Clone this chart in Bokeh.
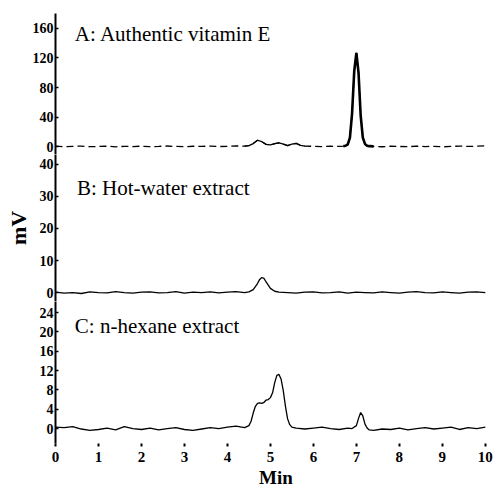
from bokeh.plotting import figure
from bokeh.layouts import column
from bokeh.models import Label, Range1d, FixedTicker
from bokeh.embed import file_html
from bokeh.resources import INLINE

# ---- data ----
time_a = [0.0, 0.2, 0.4, 0.6, 0.8, 1.0, 1.2, 1.4, 1.6, 1.8, 2.0, 2.2, 2.4, 2.6, 2.8, 3.0, 3.2, 3.4, 3.6, 3.8, 4.0, 4.2, 4.4,
          4.5, 4.6, 4.7, 4.8, 4.9, 5.0, 5.1, 5.2, 5.3, 5.4, 5.5, 5.6, 5.7, 5.8,
          6.0, 6.2, 6.4, 6.6, 6.7,
          6.75, 6.8, 6.85, 6.9, 6.95, 7.0, 7.05, 7.1, 7.15, 7.2, 7.25, 7.3,
          7.4, 7.6, 7.8, 8.0, 8.2, 8.4, 8.6, 8.8, 9.0, 9.2, 9.4, 9.6, 9.8, 10.0]
mv_a = [0.5, -0.3, 0.2, 0.6, -0.2, 0.1, 0.4, -0.4, 0.3, 0.0, 0.5, -0.2, 0.2, 0.7, 0.1, -0.3, 0.4, 0.2, 0.6, 0.0, 0.3, 0.8, 0.5,
        1.2, 4.0, 8.5, 6.5, 3.0, 2.2, 3.8, 5.0, 3.2, 1.2, 3.4, 4.2, 1.6, 0.5,
        0.3, -0.2, 0.4, 0.2, 0.6,
        1.0, 3.0, 12.0, 45.0, 102.0, 127.0, 100.0, 42.0, 12.0, 3.5, 1.2, 0.5,
        0.2, -0.3, 0.4, 0.1, -0.2, 0.5, 0.0, 0.3, -0.4, 0.2, 0.6, 0.1, 0.4, 0.9]

time_b = [0.0, 0.2, 0.4, 0.6, 0.8, 1.0, 1.2, 1.4, 1.6, 1.8, 2.0, 2.2, 2.4, 2.6, 2.8, 3.0, 3.2, 3.4, 3.6, 3.8, 4.0, 4.2, 4.4,
          4.5, 4.6, 4.7, 4.75, 4.8, 4.85, 4.9, 5.0, 5.1, 5.2,
          5.4, 5.6, 5.8, 6.0, 6.2, 6.4, 6.6, 6.8, 7.0, 7.2, 7.4, 7.6, 7.8, 8.0, 8.2, 8.4, 8.6, 8.8, 9.0, 9.2, 9.4, 9.6, 9.8, 10.0]
mv_b = [0.1, -0.2, 0.0, -0.3, 0.2, 0.0, -0.1, 0.3, 0.0, -0.2, 0.1, 0.2, -0.1, 0.0, 0.3, -0.2, 0.1, 0.0, 0.2, -0.1, 0.1, 0.3, 0.0,
        0.2, 0.9, 2.8, 4.1, 4.7, 4.4, 3.3, 1.3, 0.4, 0.1,
        0.0, -0.2, 0.1, 0.2, -0.1, 0.0, 0.2, -0.2, 0.1, 0.0, -0.1, 0.2, 0.0, -0.2, 0.1, 0.3, 0.0, -0.1, 0.2, 0.0, -0.2, 0.1, 0.2, 0.0]

time_c = [0.0, 0.2, 0.4, 0.6, 0.8, 1.0, 1.2, 1.4, 1.6, 1.8, 2.0, 2.2, 2.4, 2.6, 2.8, 3.0, 3.2, 3.4, 3.6, 3.8, 4.0, 4.2, 4.4,
          4.5, 4.55, 4.6, 4.65, 4.7, 4.75, 4.8, 4.85, 4.9, 4.95, 5.0, 5.05, 5.1, 5.15, 5.2, 5.25, 5.3, 5.35, 5.4, 5.45, 5.5, 5.6,
          5.8, 6.0, 6.2, 6.4, 6.6, 6.8,
          6.9, 7.0, 7.05, 7.1, 7.15, 7.2, 7.25, 7.3,
          7.4, 7.6, 7.8, 8.0, 8.2, 8.4, 8.6, 8.8, 9.0, 9.2, 9.4, 9.6, 9.8, 10.0]
mv_c = [0.3, 0.2, 0.4, -0.1, -0.4, -0.2, 0.1, -0.3, 0.4, 0.0, -0.2, 0.1, -0.3, 0.0, 0.2, -0.2, -0.4, -0.1, 0.2, 0.0, 0.3, 0.5, 0.2,
        0.6, 1.5, 3.2, 4.6, 5.2, 5.3, 5.2, 5.4, 5.9, 6.0, 6.4, 7.4, 9.5, 11.0, 11.2, 10.2, 7.8, 4.6, 2.0, 0.8, 0.3, 0.1,
        -0.1, 0.1, 0.3, 0.0, -0.2, 0.1,
        0.0, 0.6, 2.1, 3.3, 2.6, 0.9, 0.1, -0.3,
        -0.4, -0.1, -0.2, 0.1, -0.3, 0.0, 0.2, -0.1, 0.1, 0.3, -0.2, 0.2, 0.0, 0.3]

ticks_a = [0, 40, 80, 120, 160]
ticks_b = [0, 10, 20, 30, 40]
ticks_c = [0, 4, 8, 12, 16, 20, 24]
ticks_x = [0, 1, 2, 3, 4, 5, 6, 7, 8, 9, 10]
label_a = "A: Authentic vitamin E"
label_b = "B: Hot-water extract"
label_c = "C: n-hexane extract"

SERIF = "Liberation Serif"
X_RANGE = (0.0, 10.26)


def make_panel(height, yr, yticks, border_top=0, border_bottom=0):
    p = figure(width=496, height=height, output_backend="svg", toolbar_location=None,
               x_range=Range1d(*X_RANGE), y_range=Range1d(*yr),
               min_border_left=55, min_border_right=0, min_border_top=border_top,
               min_border_bottom=border_bottom)
    p.outline_line_color = None
    p.xgrid.visible = False
    p.ygrid.visible = False
    p.background_fill_color = "white"
    p.border_fill_color = "white"
    ax = p.yaxis[0]
    ax.ticker = FixedTicker(ticks=yticks)
    ax.axis_line_width = 2
    ax.axis_line_color = "black"
    ax.major_tick_in = 3
    ax.major_tick_out = 0
    ax.major_tick_line_width = 1.5
    ax.minor_tick_line_color = None
    ax.major_label_standoff = 2
    ax.major_label_text_font = SERIF
    ax.major_label_text_font_style = "bold"
    ax.major_label_text_font_size = "14px"
    ax.major_label_text_color = "black"
    return p


pa = make_panel(154, (-10.8, 180.3), ticks_a, border_top=13)
pa.xaxis.visible = False
pa.line(time_a, mv_a, line_color="black", line_width=1.3, line_dash="7 4")
pa.line(time_a[22:37], mv_a[22:37], line_color="black", line_width=1.3)
pa.line(time_a[41:55], mv_a[41:55], line_color="black", line_width=2.6)
pa.add_layout(Label(x=0.45, y=153, text=label_a, text_font=SERIF, text_font_size="21px",
                    text_baseline="middle", text_color="black"))

pb = make_panel(147, (-2.8, 43.1), ticks_b)
pb.xaxis.visible = False
pb.line(time_b, mv_b, line_color="black", line_width=1.3)
pb.yaxis.axis_label = "mV"
pb.yaxis.axis_label_text_font = SERIF
pb.yaxis.axis_label_text_font_style = "bold"
pb.yaxis.axis_label_text_font_size = "22px"
pb.yaxis.axis_label_text_color = "black"
pb.yaxis.axis_label_standoff = 6
pb.add_layout(Label(x=0.5, y=32.6, text=label_b, text_font=SERIF, text_font_size="21px",
                    text_baseline="middle", text_color="black"))

pc = make_panel(189, (-3.1, 26.3), ticks_c, border_bottom=46)
pc.line(time_c, mv_c, line_color="black", line_width=1.3)
xa = pc.xaxis[0]
xa.ticker = FixedTicker(ticks=ticks_x)
xa.axis_line_color = None
xa.major_tick_in = 0
xa.major_tick_out = 3
xa.major_tick_line_width = 2
xa.minor_tick_line_color = None
xa.major_label_standoff = 5
xa.major_label_text_font = SERIF
xa.major_label_text_font_style = "bold"
xa.major_label_text_font_size = "15px"
xa.major_label_text_color = "black"
xa.axis_label = "Min"
xa.axis_label_text_font = SERIF
xa.axis_label_text_font_style = "bold"
xa.axis_label_text_font_size = "19px"
xa.axis_label_text_color = "black"
xa.axis_label_standoff = 2
pc.add_layout(Label(x=0.45, y=21.3, text=label_c, text_font=SERIF, text_font_size="21px",
                    text_baseline="middle", text_color="black"))

layout = column(pa, pb, pc, spacing=0)
open("out.html", "w").write(file_html(layout, INLINE))
